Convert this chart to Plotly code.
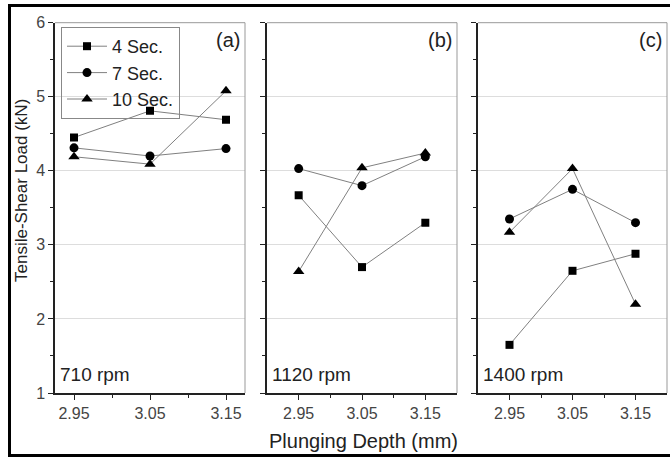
import plotly.graph_objects as go

depths = [2.95, 3.05, 3.15]
series_names = ["4 Sec.", "7 Sec.", "10 Sec."]
panel_labels = ["(a)", "(b)", "(c)"]
speed_labels = ["710 rpm", "1120 rpm", "1400 rpm"]

# values per panel, per series
rpm710_4s = [4.45, 4.81, 4.69]
rpm710_7s = [4.31, 4.20, 4.30]
rpm710_10s = [4.19, 4.09, 5.08]

rpm1120_4s = [3.67, 2.70, 3.30]
rpm1120_7s = [4.03, 3.80, 4.19]
rpm1120_10s = [2.64, 4.04, 4.24]

rpm1400_4s = [1.65, 2.65, 2.88]
rpm1400_7s = [3.35, 3.75, 3.30]
rpm1400_10s = [3.17, 4.03, 2.20]

panels = [
    [rpm710_4s, rpm710_7s, rpm710_10s],
    [rpm1120_4s, rpm1120_7s, rpm1120_10s],
    [rpm1400_4s, rpm1400_7s, rpm1400_10s],
]

symbols = ["square", "circle", "triangle-up"]
msizes = [8, 9, 10]

W, H = 670, 458
x_dom_px = [(55, 245), (267, 457), (478, 667)]
x_ranges = [[2.925, 3.175], [2.9, 3.2], [2.9, 3.2]]
y_top_px, y_bot_px = 22.7, 393
y_dom = [(H - y_bot_px) / H, (H - y_top_px) / H]

fig = go.Figure()
font_fam = "Liberation Sans, Arial, sans-serif"

for p in range(3):
    xa = "x" if p == 0 else f"x{p+1}"
    ya = "y" if p == 0 else f"y{p+1}"
    for s in range(3):
        fig.add_trace(go.Scatter(
            x=depths, y=panels[p][s], mode="lines+markers",
            name=series_names[s], showlegend=(p == 0),
            line=dict(color="#808080", width=1),
            marker=dict(symbol=symbols[s], size=msizes[s], color="black"),
            xaxis=xa, yaxis=ya,
        ))

layout = dict(
    width=W, height=H,
    margin=dict(l=0, r=0, t=0, b=0, pad=0, autoexpand=False),
    paper_bgcolor="white", plot_bgcolor="white",
    font=dict(family=font_fam, color="#333333"),
    showlegend=True,
    legend=dict(
        x=61 / W, y=1 - 27 / H, xanchor="left", yanchor="top",
        bordercolor="#888888", borderwidth=1, bgcolor="rgba(255,255,255,0)",
        font=dict(size=18, color="#222222", family=font_fam),
        tracegroupgap=0, itemwidth=40,
    ),
)

shapes = []
annotations = []
for p in range(3):
    suffix = "" if p == 0 else str(p + 1)
    x0, x1 = x_dom_px[p]
    layout["xaxis" + suffix] = dict(
        domain=[x0 / W, x1 / W], range=x_ranges[p],
        anchor="y" + suffix, automargin=False,
        tickvals=depths, ticktext=["2.95", "3.05", "3.15"],
        ticks="outside", ticklen=5, tickwidth=1.3, tickcolor="#222",
        minor=dict(tickvals=[3.0, 3.1], ticks="outside", ticklen=3, tickwidth=1.3, tickcolor="#222"),
        showline=True, linecolor="#222", linewidth=1.5,
        showgrid=False, zeroline=False,
        tickfont=dict(size=16, color="#444444"),
    )
    layout["yaxis" + suffix] = dict(
        domain=y_dom, range=[1, 6], anchor="x" + suffix, automargin=False,
        tickvals=[1, 2, 3, 4, 5, 6],
        ticks="outside", ticklen=5, tickwidth=1.3, tickcolor="#222",
        minor=dict(tickvals=[1.5, 2.5, 3.5, 4.5, 5.5], ticks="outside", ticklen=3, tickwidth=1.3, tickcolor="#222", showgrid=False),
        showline=True, linecolor="#222", linewidth=1.5,
        showgrid=True, gridcolor="#dddddd", gridwidth=1,
        zeroline=False,
        showticklabels=(p == 0),
        tickfont=dict(size=16, color="#444444"),
    )
    # gray top and right frame edges
    shapes.append(dict(type="line", xref="paper", yref="paper",
                       x0=x0 / W, x1=x1 / W, y0=y_dom[1], y1=y_dom[1],
                       line=dict(color="#999999", width=1)))
    shapes.append(dict(type="line", xref="paper", yref="paper",
                       x0=x1 / W, x1=x1 / W, y0=y_dom[0], y1=y_dom[1],
                       line=dict(color="#999999", width=1)))
    annotations.append(dict(text=panel_labels[p], xref="paper", yref="paper",
                            x=(x1 - 3) / W, y=1 - 40 / H, xanchor="right", yanchor="middle",
                            showarrow=False, font=dict(size=20, color="#222")))
    annotations.append(dict(text=speed_labels[p], xref="paper", yref="paper",
                            x=(x0 + 3) / W, y=1 - 374 / H, xanchor="left", yanchor="middle",
                            showarrow=False, font=dict(size=19, color="#222")))

annotations.append(dict(text="Plunging Depth (mm)", xref="paper", yref="paper",
                        x=364 / W, y=1 - 441 / H, xanchor="center", yanchor="middle",
                        showarrow=False, font=dict(size=20, color="#222")))
annotations.append(dict(text="Tensile-Shear Load (kN)", xref="paper", yref="paper",
                        x=22 / W, y=1 - 191 / H, xanchor="center", yanchor="middle",
                        textangle=-90, showarrow=False, font=dict(size=17, color="#222")))

# outer black border
shapes.append(dict(type="rect", xref="paper", yref="paper",
                   x0=9.5 / W, x1=1.01, y0=1 - 455.5 / H, y1=1 - 5.5 / H,
                   line=dict(color="black", width=3), layer="above"))

layout["shapes"] = shapes
layout["annotations"] = annotations
fig.update_layout(**layout)
fig.write_html("out.html", config={"displayModeBar": False},
               post_script="document.body.style.margin='0';")
